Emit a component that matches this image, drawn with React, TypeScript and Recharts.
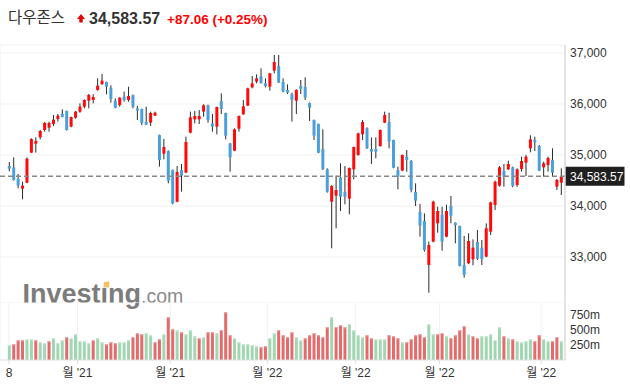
import React from 'react';
import { ComposedChart, Bar, XAxis, YAxis, CartesianGrid, ReferenceLine } from 'recharts';

// daily candles, 8 Oct 2021 .. 7 Apr 2022
const opens = [
  34784, 34752, 34536, 34340, 34458, 35046, 35222, 35347, 35490, 35536,
  35608, 35706, 35804, 35863, 35556, 35732, 35850, 35948, 36065, 36079,
  36275, 36392, 36431, 36320, 36065, 35980, 36144, 36079, 36177, 35915,
  35902, 35647, 35634, 35771, 35392, 35026, 35078, 34706, 34085, 34706,
  34654, 35438, 35699, 35699, 35850, 35974, 35621, 35556, 36059, 35824,
  35229, 35085, 35516, 35797, 35967, 36327, 36438, 36543, 36405, 36340,
  36654, 36745, 36431, 36275, 36190, 36065, 36353, 36334, 36020, 35686,
  35608, 35118, 34719, 34085, 34203, 34556, 34275, 34144, 34719, 35000,
  35405, 35523, 35118, 35118, 35176, 35634, 35647, 35294, 34706, 34693,
  34967, 34883, 34275, 33883, 33706, 32843, 33301, 33660, 33830, 33399,
  34000, 33673, 33608, 32843, 32876, 32954, 33294, 33183, 33007, 33497,
  34020, 34399, 34686, 34719, 34758, 34412, 34726, 34850, 35131, 35294,
  35176, 34758, 34804, 34902, 34379, 34458,
];
const highs = [
  34863, 34954, 34628, 34477, 34954, 35327, 35346, 35490, 35647, 35654,
  35784, 35804, 35895, 35870, 35752, 35863, 36013, 36092, 36196, 36190,
  36503, 36588, 36438, 36366, 36111, 36131, 36242, 36340, 36185, 35961,
  35910, 35948, 35850, 35850, 35400, 35314, 35090, 34715, 34784, 34823,
  35360, 35850, 35863, 35882, 35994, 35985, 35804, 35950, 36209, 35830,
  35235, 35523, 35775, 36078, 36320, 36549, 36582, 36699, 36503, 36610,
  36961, 36961, 36503, 36386, 36222, 36288, 36471, 36523, 36030, 35695,
  35615, 35503, 34739, 34412, 34595, 34837, 34784, 34755, 35165, 35438,
  35686, 35542, 35346, 35346, 35503, 35850, 35830, 35300, 34771, 35010,
  35098, 34902, 34444, 34039, 33856, 33301, 34105, 33987, 33987, 34026,
  34196, 33680, 33615, 33412, 33464, 33346, 33529, 33333, 33660, 34085,
  34497, 34784, 34824, 34889, 34771, 34739, 34967, 35000, 35386, 35359,
  35196, 34869, 34967, 35131, 34529, 34739,
];
const lows = [
  34680, 34497, 34346, 34131, 34445, 35040, 35046, 35307, 35458, 35458,
  35569, 35654, 35739, 35480, 35543, 35712, 35830, 35915, 35915, 36013,
  36262, 36373, 36190, 36026, 35915, 35948, 36046, 36046, 35915, 35686,
  35588, 35588, 35569, 35765, 34771, 34915, 34445, 34033, 34072, 34281,
  34645, 35425, 35621, 35608, 35752, 35634, 35457, 35405, 35804, 35307,
  34673, 35075, 35458, 35790, 35960, 36307, 36405, 36405, 36327, 36262,
  36601, 36418, 36229, 36196, 35654, 35804, 36196, 36079, 35667, 35294,
  35035, 34706, 34262, 33170, 33562, 33902, 34033, 33837, 34523, 34987,
  35294, 35118, 34824, 34935, 35163, 35625, 35131, 34740, 34327, 34685,
  34673, 34268, 34000, 33399, 33105, 32301, 33288, 33477, 33124, 33386,
  33660, 33268, 32815, 32595, 32863, 32837, 32941, 32843, 32994, 33431,
  33922, 34379, 34379, 34706, 34366, 34379, 34673, 34588, 35052, 35078,
  34685, 34575, 34673, 34588, 34314, 34216,
];
const closes = [
  34732, 34510, 34399, 34399, 34928, 35314, 35275, 35471, 35628, 35628,
  35693, 35771, 35745, 35490, 35745, 35850, 35948, 36079, 36177, 36137,
  36360, 36458, 36340, 36098, 35928, 36124, 36079, 36157, 35948, 35869,
  35621, 35595, 35824, 35830, 34902, 35157, 34497, 34052, 34667, 34595,
  35255, 35739, 35765, 35765, 35974, 35686, 35556, 35941, 35902, 35379,
  34954, 35503, 35765, 35954, 36307, 36405, 36503, 36405, 36353, 36601,
  36824, 36418, 36242, 36222, 36079, 36275, 36301, 36124, 35928, 35379,
  35046, 34726, 34281, 34392, 34314, 34183, 34183, 34745, 35157, 35425,
  35647, 35131, 35065, 35065, 35490, 35784, 35261, 34752, 34575, 35000,
  34902, 34314, 34105, 33615, 33137, 33235, 34085, 33902, 33301, 33902,
  33811, 33627, 32824, 32647, 33314, 33183, 32967, 32961, 33562, 34072,
  34477, 34758, 34575, 34824, 34392, 34719, 34882, 34967, 35307, 35248,
  34693, 34837, 34941, 34654, 34510, 34584,
];
// volume in millions
const volumes = [
  245, 261, 328, 328, 344, 344, 328, 294, 278, 311,
  361, 278, 328, 378, 361, 428, 311, 311, 278, 328,
  361, 294, 261, 294, 278, 294, 294, 328, 378, 444,
  428, 444, 411, 294, 344, 428, 711, 511, 494, 461,
  428, 494, 394, 361, 378, 461, 461, 444, 494, 794,
  411, 361, 294, 261, 261, 244, 228, 211, 228, 361,
  444, 494, 411, 378, 461, 378, 328, 361, 411, 444,
  411, 378, 544, 711, 544, 578, 544, 594, 494, 411,
  378, 411, 361, 344, 344, 344, 411, 394, 361, 294,
  294, 344, 411, 428, 378, 594, 428, 428, 444, 394,
  361, 411, 494, 561, 428, 394, 361, 394, 394, 428,
  328, 544, 394, 361, 344, 311, 294, 311, 344, 311,
  411, 344, 311, 311, 378, 311,
];
// r = red bar, g = green bar
const volumeColors =
  'grrrggrggr' + 'gggrgggggr' + 'ggrrrgggrr' + 'rggrrgrrgr' +
  'gggrgrrgrr' + 'rggggggrrg' + 'grrrrggrrr' + 'rrrgrrrggg' +
  'grrgggrrrg' + 'rrrrrggrrg' + 'rrrrgrrggg' + 'ggrgrggggr' + 'rggrrg';

const monthTicks = [0, 15.5, 36.5, 58.5, 78.5, 97.5, 120.5];
const monthLabels = ['8', "월 '21", "월 '21", "월 '22", "월 '22", "월 '22", "월 '22"];
const priceTicks = [33000, 34000, 35000, 36000, 37000];
const volumeTicks = [250, 500, 750];
const lastPrice = 34583.57;

const data = opens.map((o, i) => ({
  i,
  o,
  h: highs[i],
  l: lows[i],
  c: closes[i],
  range: [lows[i], highs[i]],
  v: volumes[i],
  vc: volumeColors[i],
}));

const FONT = 'Arial, "Liberation Sans", "Noto Sans CJK KR", sans-serif';
const xDomain: [number, number] = [-2.04, 125.9];

const Candle = (props: any) => {
  const { x, y, width, height, payload } = props;
  if (!payload) return null;
  const { o, h, l, c } = payload;
  const top0 = Math.min(y, y + height);
  const hh = Math.abs(height);
  const span = h - l || 1;
  const toY = (v: number) => top0 + ((h - v) / span) * hh;
  const up = c >= o;
  const bt = toY(Math.max(o, c));
  const bb = toY(Math.min(o, c));
  const cx = x + width / 2;
  return (
    <g>
      <line x1={cx} x2={cx} y1={top0} y2={top0 + hh} stroke="#2b2b2b" strokeWidth={1} />
      <rect x={cx - 1.5} y={bt} width={3} height={Math.max(bb - bt, 1)} fill={up ? '#ff0a0a' : '#4ba0dc'} />
    </g>
  );
};

const VolBar = (props: any) => {
  const { x, y, width, height, payload } = props;
  if (!payload) return null;
  const red = payload.vc === 'r';
  return (
    <g>
      <rect x={x} y={y} width={width} height={height} fill={red ? '#e36b6b' : '#a2d6b3'} />
      <rect x={x} y={y} width={width} height={1} fill={red ? '#f0a3a3' : '#c9e9d3'} />
    </g>
  );
};

const PriceTag = (props: any) => {
  const vb = props.viewBox || {};
  const x = (vb.x ?? 0) + (vb.width ?? 0);
  const y = vb.y ?? 0;
  return (
    <g>
      <rect x={x + 0.5} y={y - 9.5} width={59} height={19} fill="#1f1f1f" />
      <text x={x + 5} y={y + 4.5} fill="#fff" fontSize={12} fontFamily={FONT}>
        34,583.57
      </text>
    </g>
  );
};

export default function App() {
  return (
    <div style={{ position: 'absolute', left: 0, top: 0, width: 630, height: 389, background: '#fff', fontFamily: FONT }}>
      {/* header + watermark */}
      <svg width={630} height={389} style={{ position: 'absolute', left: 0, top: 0 }}>
        <text x={8} y={22.5} fontSize={15.5} fill="#333" fontFamily='"Noto Sans CJK KR", sans-serif'>다우존스</text>
        <polygon points="77,19 81,14 85,19 82.7,19 82.7,22.5 79.3,22.5 79.3,19" fill="#e60000" />
        <text x={89} y={23.5} fontSize={16} fontWeight="bold" fill="#333">34,583.57</text>
        <text x={167} y={23.5} fontSize={13.5} fontWeight="bold" fill="#f00">+87.06 (+0.25%)</text>
        <text x={22.5} y={303} fontSize={27} fontWeight="bold" fill="#7c7c7c">
          Investıng<tspan fontWeight="normal" fontSize={19.5} fill="#8a8a8a">.com</tspan>
        </text>
        <polygon points="104,282 109.5,281.5 109,287.5 103.5,287.5" fill="#f6bf68" />
      </svg>

      <div style={{ position: 'absolute', left: 0, top: 0 }}>
        <ComposedChart width={630} height={303} data={data} margin={{ top: 45, right: 0, bottom: 0, left: 0 }}>
          <CartesianGrid stroke="#f1f1f1" />
          <XAxis
            dataKey="i"
            type="number"
            domain={xDomain}
            allowDataOverflow
            ticks={monthTicks}
            tick={false}
            tickLine={false}
            height={0}
            axisLine={{ stroke: '#cfcfcf' }}
          />
          <YAxis
            orientation="right"
            width={65}
            domain={[32098, 37157]}
            allowDataOverflow
            ticks={priceTicks}
            interval={0}
            tickFormatter={(v: number) => v.toLocaleString('en-US')}
            tick={{ fill: '#333', fontSize: 12 }}
            tickLine={false}
            tickSize={0}
            tickMargin={5}
            axisLine={{ stroke: '#cfcfcf' }}
          />
          <Bar dataKey="range" barSize={3} shape={<Candle />} isAnimationActive={false} />
          <ReferenceLine y={lastPrice} stroke="#888" strokeDasharray="5 3" strokeWidth={1.5} label={PriceTag} />
        </ComposedChart>
      </div>

      <div style={{ position: 'absolute', left: 0, top: 303 }}>
        <ComposedChart width={630} height={86} data={data} margin={{ top: 0, right: 0, bottom: 0, left: 0 }}>
          <CartesianGrid stroke="#f1f1f1" horizontal={false} />
          <XAxis
            dataKey="i"
            type="number"
            domain={xDomain}
            allowDataOverflow
            ticks={monthTicks}
            interval={0}
            tickFormatter={(v: number) => monthLabels[monthTicks.indexOf(v)] ?? ''}
            height={29}
            tick={{ fill: '#333', fontSize: 12 }}
            tickSize={4}
            tickMargin={4}
            tickLine={{ stroke: '#ddd' }}
            axisLine={{ stroke: '#ddd' }}
          />
          <YAxis
            orientation="right"
            width={65}
            domain={[0, 950]}
            allowDataOverflow
            ticks={volumeTicks}
            interval={0}
            tickFormatter={(v: number) => `${v}m`}
            tick={{ fill: '#333', fontSize: 12 }}
            tickLine={false}
            tickSize={0}
            tickMargin={5}
            axisLine={{ stroke: '#cfcfcf' }}
          />
          <Bar dataKey="v" barSize={3} shape={<VolBar />} isAnimationActive={false} />
        </ComposedChart>
      </div>
    </div>
  );
}
